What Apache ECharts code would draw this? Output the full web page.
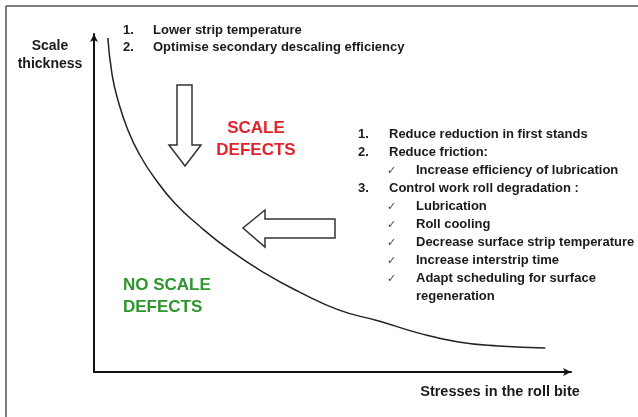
<!DOCTYPE html>
<html>
<head>
<meta charset="utf-8">
<script src="https://cdn.jsdelivr.net/npm/echarts@6/dist/echarts.min.js"></script>
<style>
  html, body { margin: 0; padding: 0; background: #fff; }
  #chart { width: 638px; height: 417px; }
</style>
</head>
<body>
<div id="chart"></div>
<script>
// curve (axes run 0..100 in both directions)
var curveX = [2.9, 3.8, 5.0, 7.1, 9.6, 12.7, 16.9, 22.1, 28.4, 35.7, 43.0, 51.4, 59.7, 68.1, 76.4, 84.8, 94.6];
var curveY = [98.8, 87.9, 80.5, 71.6, 64.2, 57.4, 50.0, 43.2, 36.1, 29.3, 23.7, 18.3, 15.1, 11.5, 8.9, 7.7, 7.1];

var yName = ['Scale', 'thickness'];
var xName = 'Stresses in the roll bite';
var topList = ['Lower strip temperature', 'Optimise secondary descaling efficiency'];
var rightList = [
  ['1.', 'Reduce reduction in first stands'],
  ['2.', 'Reduce friction:'],
  ['\u2713', 'Increase efficiency of lubrication'],
  ['3.', 'Control work roll degradation :'],
  ['\u2713', 'Lubrication'],
  ['\u2713', 'Roll cooling'],
  ['\u2713', 'Decrease surface strip temperature'],
  ['\u2713', 'Increase interstrip time'],
  ['\u2713', 'Adapt scheduling for surface'],
  ['', 'regeneration']
];
var scaleLabel = ['SCALE', 'DEFECTS'];
var noScaleLabel = ['NO SCALE', 'DEFECTS'];

var FONT = '"Liberation Sans", Arial, sans-serif';
var myChart = echarts.init(document.getElementById('chart'));

var graphics = [];
function txt(s, x, y, size, color, align, weight) {
  graphics.push({
    type: 'text',
    silent: true,
    style: {
      text: s, x: x, y: y,
      font: (weight || 'bold') + ' ' + size + 'px ' + FONT,
      fill: color || '#1a1a1a',
      textAlign: align || 'left',
      textVerticalAlign: 'middle'
    }
  });
}

// frame of the original slide (top and left edges only)
graphics.push({ type: 'line', shape: { x1: 6, y1: 6, x2: 638, y2: 6 }, style: { stroke: '#555', lineWidth: 1.5 } });
graphics.push({ type: 'line', shape: { x1: 6, y1: 6, x2: 6, y2: 417 }, style: { stroke: '#555', lineWidth: 1.5 } });

yName.forEach(function (s, i) { txt(s, 50, 46 + i * 18, 14, '#1a1a1a', 'center'); });
txt(xName, 500, 392, 14.5, '#1a1a1a', 'center');

topList.forEach(function (s, i) {
  txt((i + 1) + '.', 123, 30 + i * 17, 13);
  txt(s, 153, 30 + i * 17, 13);
});

rightList.forEach(function (row, i) {
  var y = 134 + i * 18;
  var sub = row[0] === '\u2713' || row[0] === '';
  if (row[0] === '\u2713') {
    txt(row[0], 387, y + 1, 11, '#444', 'left', 'normal');
  } else if (row[0]) {
    txt(row[0], 358, y, 13);
  }
  txt(row[1], sub ? 416 : 389, y, 13);
});

scaleLabel.forEach(function (s, i) { txt(s, 256, 128 + i * 22, 17, '#e3222b', 'center'); });
noScaleLabel.forEach(function (s, i) { txt(s, 123, 285 + i * 22, 17, '#2e962e', 'left'); });

// hollow arrows
graphics.push({
  type: 'polygon', silent: true,
  shape: { points: [[177, 85], [192, 85], [192, 145], [201, 145], [185, 166], [169, 145], [177, 145]] },
  style: { fill: '#fff', stroke: '#333', lineWidth: 1.5 }
});
graphics.push({
  type: 'polygon', silent: true,
  shape: { points: [[335, 219], [265, 219], [265, 210], [243, 228], [265, 247], [265, 238], [335, 238]] },
  style: { fill: '#fff', stroke: '#333', lineWidth: 1.5 }
});

var axisCommon = {
  type: 'value', min: 0, max: 100,
  axisTick: { show: false },
  axisLabel: { show: false },
  splitLine: { show: false },
  axisLine: {
    show: true,
    symbol: ['none', 'arrow'],
    symbolSize: [6, 8],
    lineStyle: { color: '#111', width: 2 }
  }
};

var option = {
  backgroundColor: '#fff',
  animation: false,
  grid: { left: 94, right: 67, top: 34, bottom: 45 },
  xAxis: axisCommon,
  yAxis: axisCommon,
  graphic: graphics,
  series: [{
    type: 'line',
    smooth: 0.5,
    showSymbol: false,
    lineStyle: { color: '#222', width: 1.5 },
    data: curveX.map(function (x, i) { return [x, curveY[i]]; })
  }]
};

myChart.setOption(option);
</script>
</body>
</html>
